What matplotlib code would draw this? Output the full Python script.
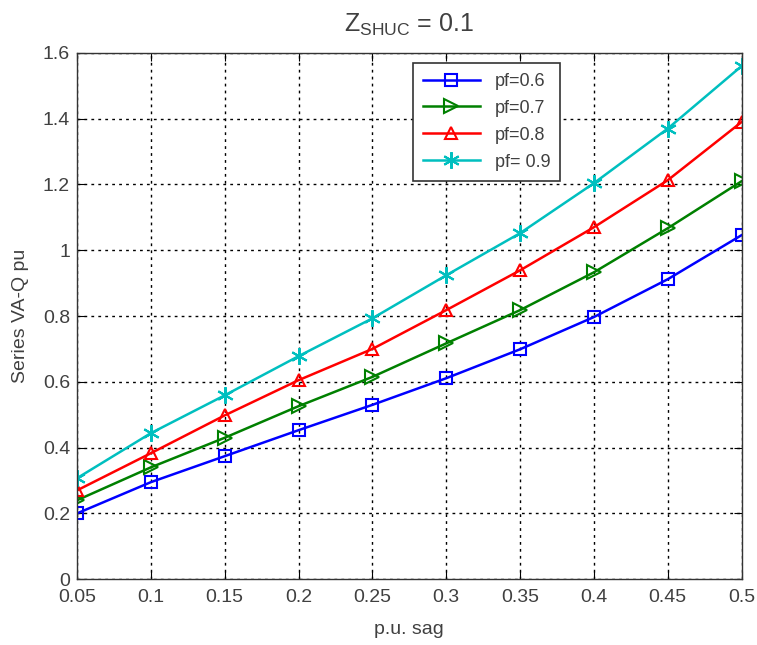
import matplotlib.pyplot as plt

plt.rcParams['font.family'] = ['Liberation Sans', 'DejaVu Sans']

# data
sag = [0.05, 0.1, 0.15, 0.2, 0.25, 0.3, 0.35, 0.4, 0.45, 0.5]
pf06 = [0.20, 0.295, 0.374, 0.453, 0.53, 0.611, 0.699, 0.797, 0.912, 1.046]
pf07 = [0.24, 0.34, 0.43, 0.526, 0.615, 0.717, 0.818, 0.933, 1.067, 1.21]
pf08 = [0.27, 0.383, 0.498, 0.605, 0.70, 0.818, 0.939, 1.07, 1.213, 1.39]
pf09 = [0.307, 0.444, 0.559, 0.678, 0.793, 0.924, 1.052, 1.204, 1.37, 1.56]
labels = ['pf=0.6', 'pf=0.7', 'pf=0.8', 'pf= 0.9']
xticks = [0.05, 0.1, 0.15, 0.2, 0.25, 0.3, 0.35, 0.4, 0.45, 0.5]
yticks = [0, 0.2, 0.4, 0.6, 0.8, 1, 1.2, 1.4, 1.6]

fig = plt.figure(figsize=(7.57, 6.45), dpi=100, facecolor='white')
ax = fig.add_axes([0.1017, 0.102, 0.878, 0.816])

series = [pf06, pf07, pf08, pf09]
colors = ['#0000ff', '#008000', '#ff0000', '#00bfbf']
markers = ['s', '>', '^', (6, 2, 0)]
sizes = [9, 10, 9, 12]
for s, c, m, ms, lab in zip(series, colors, markers, sizes, labels):
    ax.plot(sag, s, color=c, marker=m, markersize=ms, markerfacecolor='none',
            markeredgecolor=c, markeredgewidth=1.5, linewidth=1.8, label=lab)

ax.set_xlim(0.05, 0.5)
ax.set_ylim(0, 1.6)
ax.set_xticks(xticks)
ax.set_xticklabels(['0.05', '0.1', '0.15', '0.2', '0.25', '0.3', '0.35', '0.4', '0.45', '0.5'])
ax.set_yticks(yticks)
ax.set_yticklabels(['0', '0.2', '0.4', '0.6', '0.8', '1', '1.2', '1.4', '1.6'])
ax.grid(True, color='black', linestyle=(0, (2, 3)), linewidth=1)
ax.tick_params(direction='in', top=True, right=True, labelsize=14,
               labelcolor='#404040', length=6)
ax.tick_params(axis='x', pad=7)
ax.tick_params(axis='y', pad=5)
for sp in ax.spines.values():
    sp.set_color('#333333')
    sp.set_linewidth(1)

ax.set_xlabel('p.u. sag', fontsize=14, color='#404040', labelpad=11)
ax.set_ylabel('Series VA-Q pu', fontsize=14, color='#404040', labelpad=10)
ax.set_title(r'$\mathregular{Z_{SHUC}}$ = 0.1', fontsize=18, color='#404040', pad=15)

leg = ax.legend(loc='upper left', bbox_to_anchor=(0.505, 0.981), fontsize=13,
                fancybox=False, framealpha=1, edgecolor='#333333',
                handlelength=3.2, borderpad=0.55, labelspacing=0.55,
                borderaxespad=0)
leg.get_frame().set_linewidth(1.2)
for t in leg.get_texts():
    t.set_color('#404040')

fig.savefig('out.png', dpi=100)
